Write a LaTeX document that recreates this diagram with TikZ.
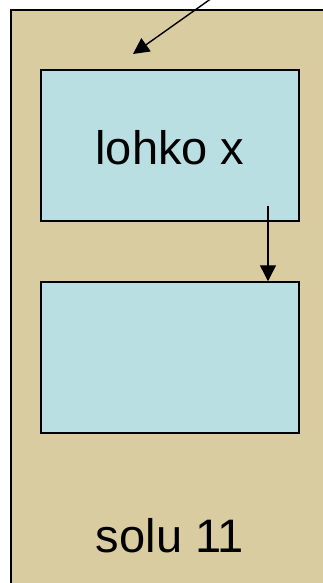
\documentclass[tikz,border=0pt]{standalone}
\usepackage{fontspec}
\setmainfont{Liberation Sans}
\usetikzlibrary{arrows.meta}
\definecolor{solutan}{RGB}{216,204,160}
\definecolor{lohkoblue}{RGB}{186,223,227}

\begin{document}
\begin{tikzpicture}[x=0.5pt, y=-0.5pt,
		lohkobox/.style={draw=black, fill=lohkoblue, line width=0.75pt, minimum width=129pt, minimum height=75.5pt, inner sep=0pt},
		pointer/.style={-{Triangle[length=8pt, width=8pt]}, line width=0.7pt}]
				\useasboundingbox (0,0) rectangle (322,583);
				
				% Cell
				\filldraw[fill=solutan, draw=black, line width=0.75pt] (11,10) rectangle (340,600);
				\node[font=\fontsize{23.5}{27}\selectfont, anchor=base] (solu) at (170,552) {solu 11};
				
				% Blocks
				\node[lohkobox] (lohko1) at (170,145.5) {};
				\node[font=\fontsize{23.5}{27}\selectfont, anchor=base] (lohkox) at (170,164) {lohko x};
				\node[lohkobox] (lohko2) at (170,357.5) {};
				
				% Pointers
				\coordinate (src) at (212,-2);
				\coordinate (dst) at (133,54);
				\coordinate (nxt) at (268,206);
				\draw[pointer] (src) -- (dst); % into the cell
				\draw[pointer] (nxt) -- (nxt |- lohko2.north); % to the next block
			\end{tikzpicture}
\end{document}
